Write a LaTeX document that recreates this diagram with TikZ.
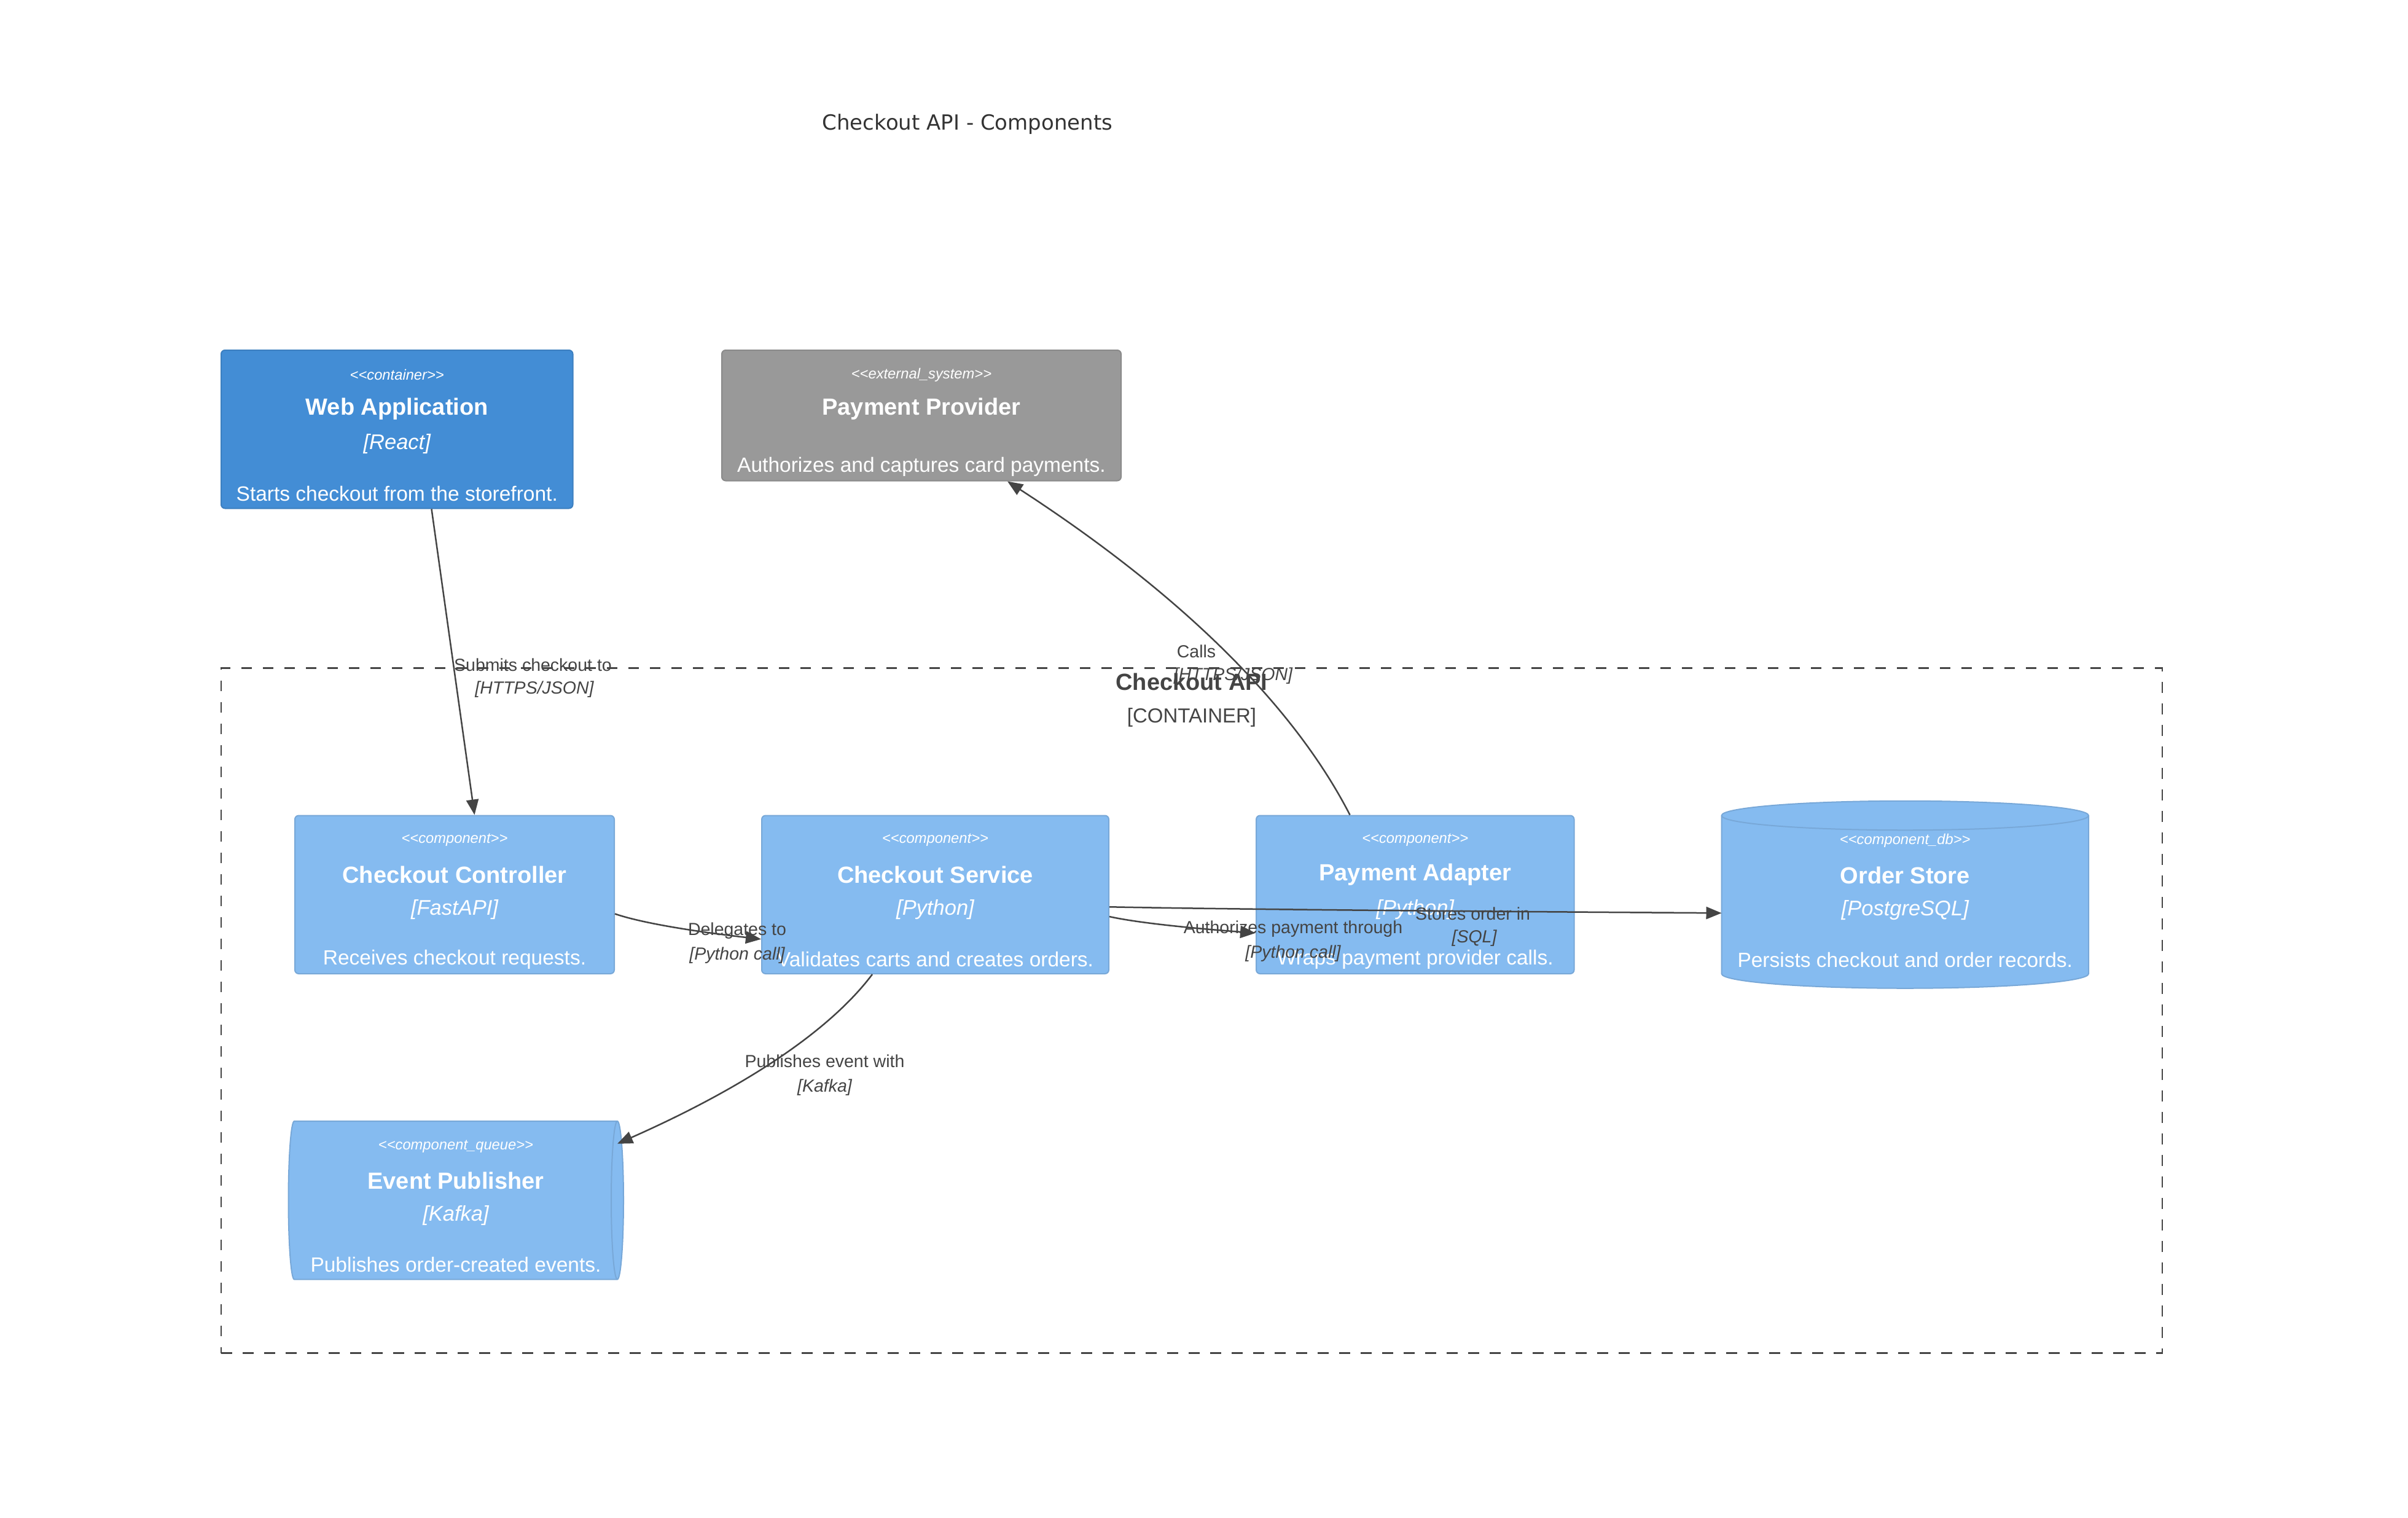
\documentclass[tikz,border=0pt]{standalone}
\usepackage{fontspec}
\setmainfont{Liberation Sans}
\newfontfamily\titlefont{DejaVu Sans}
\usetikzlibrary{arrows.meta,calc}
\definecolor{contfill}{HTML}{438DD5}
\definecolor{contline}{HTML}{3C7FC0}
\definecolor{compfill}{HTML}{85BBF0}
\definecolor{compline}{HTML}{78A8D8}
\definecolor{extfill}{HTML}{999999}
\definecolor{extline}{HTML}{8A8A8A}
\definecolor{linec}{HTML}{444444}
\definecolor{titlec}{HTML}{333333}
\newcommand\stlt{<\kern0pt<}
\newcommand\stgt{>\kern0pt>}
\tikzset{
  box/.style={rectangle, rounded corners=2.5pt, line width=0.8pt, inner sep=0pt, minimum height=103pt},
  compbox/.style={box, fill=compfill, draw=compline},
  hidden/.style={rectangle, inner sep=0pt, outer sep=0pt, minimum height=103pt},
  stereo/.style={text=white, font=\fontsize{9.5}{11}\selectfont\itshape, inner sep=0pt},
  cname/.style={text=white, font=\fontsize{15.2}{18}\selectfont\bfseries, inner sep=0pt},
  tech/.style={text=white, font=\fontsize{13.8}{16}\selectfont\itshape, inner sep=0pt},
  descr/.style={text=white, font=\fontsize{13.4}{16}\selectfont, inner sep=0pt},
  lab/.style={text=linec, font=\fontsize{11.4}{13}\selectfont, inner sep=0pt},
  labt/.style={text=linec, font=\fontsize{11.4}{13}\selectfont\itshape, inner sep=0pt},
  rel/.style={draw=linec, line width=1pt, -{Triangle[length=10pt,width=8pt]}},
  cylpath/.style={fill=compfill, draw=compline, line width=0.8pt},
}
\begin{document}
\begin{tikzpicture}[x=1pt,y=-1pt]
\fill[white] (0,0) rectangle (1568,988);
\useasboundingbox (0,0) rectangle (1568,988);

% title
\node[font=\titlefont\fontsize{13.6}{16}\selectfont, text=titlec, inner sep=0pt] (title) at (630,81) {Checkout API - Components};

% boundary
\node[draw=linec, line width=1pt, dash pattern=on 7pt off 7pt, rectangle, inner sep=0pt,
      minimum width=1264pt, minimum height=446pt] (bnd) at (776,658) {};
\node[text=linec, font=\fontsize{15.2}{18}\selectfont\bfseries, inner sep=0pt] (bndN) at (776,444) {Checkout API};
\node[text=linec, font=\fontsize{13.2}{16}\selectfont, inner sep=0pt] (bndT) at (776,467) {[CONTAINER]};

% boxes
\node[box, fill=contfill, draw=contline, minimum width=229pt] (web) at (258.5,279.5) {};
\node[box, fill=extfill, draw=extline, minimum width=260pt, minimum height=85pt] (pp) at (600,270.5) {};
\node[compbox, minimum width=208pt] (ctrl) at (296,582.5) {};
\node[compbox, minimum width=226pt] (svc) at (609,582.5) {};
\node[compbox, minimum width=207pt] (pa) at (921.5,582.5) {};
\node[hidden, minimum width=239pt] (os) at (1240.5,582.5) {};
\node[hidden, minimum width=210.4pt] (ep) at (296.8,781.5) {};

% order store cylinder
\path[cylpath] (os.north west) -- (os.south west)
   arc[start angle=180, end angle=360, x radius=119.5pt, y radius=9.5pt]
   -- (os.north east)
   arc[start angle=0, end angle=180, x radius=119.5pt, y radius=9.5pt] -- cycle;
\draw[compline, line width=0.8pt] (os.north west) arc[start angle=180, end angle=360, x radius=119.5pt, y radius=9.5pt];

% event publisher queue
\path[cylpath] (ep.north west)
   arc[start angle=90, end angle=270, x radius=3.8pt, y radius=51.5pt]
   -- (ep.south east)
   arc[start angle=270, end angle=450, x radius=4pt, y radius=51.5pt] -- cycle;
\draw[compline, line width=0.8pt] (ep.north east) arc[start angle=90, end angle=270, x radius=4pt, y radius=51.5pt];

% texts: web application
\node[stereo] (webS) at ([yshift=-16.5pt]web.north) {\stlt container\stgt};
\node[cname] (webN) at ([yshift=-38.8pt]web.north) {Web Application};
\node[tech] (webT) at ([yshift=-61.5pt]web.north) {[React]};
\node[descr] (webD) at ([yshift=-94pt]web.north) {Starts checkout from the storefront.};
% payment provider
\node[stereo] (ppS) at ([yshift=-16.5pt]pp.north) {\stlt external\_system\stgt};
\node[cname] (ppN) at ([yshift=-38.8pt]pp.north) {Payment Provider};
\node[descr] (ppD) at ([yshift=-76.5pt]pp.north) {Authorizes and captures card payments.};
% checkout controller
\node[stereo] (ctrlS) at ([yshift=-16.5pt]ctrl.north) {\stlt component\stgt};
\node[cname] (ctrlN) at ([yshift=-38.8pt]ctrl.north) {Checkout Controller};
\node[tech] (ctrlT) at ([yshift=-61.5pt]ctrl.north) {[FastAPI]};
\node[descr] (ctrlD) at ([yshift=-94pt]ctrl.north) {Receives checkout requests.};
% checkout service
\node[stereo] (svcS) at ([yshift=-16.5pt]svc.north) {\stlt component\stgt};
\node[cname] (svcN) at ([yshift=-38.8pt]svc.north) {Checkout Service};
\node[tech] (svcT) at ([yshift=-61.5pt]svc.north) {[Python]};
\node[descr] (svcD) at ([yshift=-94pt]svc.north) {Validates carts and creates orders.};
% payment adapter
\node[stereo] (paS) at ([yshift=-16.5pt]pa.north) {\stlt component\stgt};
\node[cname] (paN) at ([yshift=-38.8pt]pa.north) {Payment Adapter};
\node[tech] (paT) at ([yshift=-61.5pt]pa.north) {[Python]};
\node[descr] (paD) at ([yshift=-94pt]pa.north) {Wraps payment provider calls.};
% order store
\node[stereo] (osS) at ([yshift=-16.5pt]os.north) {\stlt component\_db\stgt};
\node[cname] (osN) at ([yshift=-38.8pt]os.north) {Order Store};
\node[tech] (osT) at ([yshift=-61.5pt]os.north) {[PostgreSQL]};
\node[descr] (osD) at ([yshift=-94pt]os.north) {Persists checkout and order records.};
% event publisher
\node[stereo] (epS) at ([yshift=-16.5pt]ep.north) {\stlt component\_queue\stgt};
\node[cname] (epN) at ([yshift=-38.8pt]ep.north) {Event Publisher};
\node[tech] (epT) at ([yshift=-61.5pt]ep.north) {[Kafka]};
\node[descr] (epD) at ([yshift=-93.5pt]ep.north) {Publishes order-created events.};

% connectors (first one straight, others quadratic curves as cubic)
\draw[rel] ([xshift=22.5pt]web.south) -- ([xshift=13pt]ctrl.north);
\draw[rel] let \p1=([xshift=-42.5pt]pa.north), \p2=([xshift=56pt]pp.south) in
  (\p1) .. controls (\x1+\x2/6-\x1/6, \y1+\y2/3-\y1/3) and (\x2/2+\x1/2, \y2-\y2/3+\y1/3) .. (\p2);
\draw[rel] let \p1=([yshift=-12.5pt]ctrl.east), \p2=([yshift=-29pt]svc.west) in
  (\p1) .. controls (\x1+\x2/6-\x1/6, \y1+\y2/3-\y1/3) and (\x2/2+\x1/2, \y2-\y2/3+\y1/3) .. (\p2);
\draw[rel] let \p1=([yshift=-14.3pt]svc.east), \p2=([yshift=-25pt]pa.west) in
  (\p1) .. controls (\x1+\x2/6-\x1/6, \y1+\y2/3-\y1/3) and (\x2/2+\x1/2, \y2-\y2/3+\y1/3) .. (\p2);
\draw[rel] let \p1=([yshift=-8pt]svc.east), \p2=([yshift=-12pt]os.west) in
  (\p1) .. controls (\x1+\x2/6-\x1/6, \y1+\y2/3-\y1/3) and (\x2/2+\x1/2, \y2-\y2/3+\y1/3) .. (\p2);
\draw[rel] let \p1=([xshift=-41pt]svc.south), \p2=([yshift=-14.7pt]ep.north east) in
  (\p1) .. controls (\x1+\x2/6-\x1/6, \y1+\y2/3-\y1/3) and (\x2/2+\x1/2, \y2-\y2/3+\y1/3) .. (\p2);

% connector labels
\node[lab] (l1a) at (347,433) {Submits checkout to};
\node[labt] (l1b) at (348,449) {[HTTPS/JSON]};
\node[lab] (l2a) at (779,424) {Calls};
\node[labt] (l2b) at (803,440) {[HTTPS/JSON]};
\node[lab] (l3a) at (480,606) {Delegates to};
\node[labt] (l3b) at (480,622) {[Python call]};
\node[lab] (l4a) at (842,605) {Authorizes payment through};
\node[labt] (l4b) at (842,621) {[Python call]};
\node[lab] (l5a) at (959,595) {Stores order in};
\node[labt] (l5b) at (960,611) {[SQL]};
\node[lab] (l6a) at (537,691) {Publishes event with};
\node[labt] (l6b) at (537,708) {[Kafka]};
\end{tikzpicture}
\end{document}
